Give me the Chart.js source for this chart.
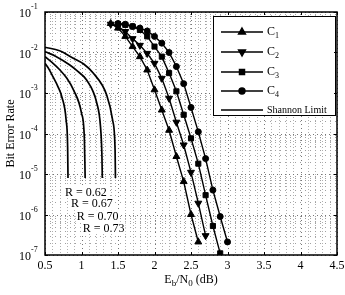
<!DOCTYPE html>
<html>
<head>
<meta charset="utf-8">
<script src="https://cdn.jsdelivr.net/npm/chart.js@4.4.1/dist/chart.umd.min.js"></script>
<style>
html, body { margin: 0; padding: 0; background: #fff; }
</style>
</head>
<body>
<canvas id="ber" width="345" height="295"></canvas>
<script>
// code families C1..C4 (Eb/N0 in dB, bit error rate)
const c1Ebn0 = [1.4, 1.5, 1.6, 1.7, 1.8, 1.9, 2.0, 2.1, 2.2, 2.3, 2.4, 2.5, 2.6];
const c1Ber = [5.2e-2, 4.0e-2, 2.5e-2, 1.4e-2, 7.9e-3, 3.7e-3, 1.2e-3, 3.8e-4, 1.2e-4, 2.7e-5, 6.5e-6, 1.0e-6, 2.1e-7];
const c2Ebn0 = [1.4, 1.5, 1.6, 1.7, 1.8, 1.9, 2.0, 2.1, 2.2, 2.3, 2.4, 2.5, 2.6, 2.7];
const c2Ber = [5.0e-2, 4.4e-2, 3.3e-2, 2.2e-2, 1.5e-2, 9.5e-3, 5.4e-3, 2.3e-3, 7.4e-4, 1.9e-4, 5.2e-5, 1.1e-5, 1.9e-6, 3.0e-7];
const c3Ebn0 = [1.5, 1.6, 1.7, 1.8, 1.9, 2.0, 2.1, 2.2, 2.3, 2.4, 2.5, 2.6, 2.7, 2.8, 2.9];
const c3Ber = [5.0e-2, 4.8e-2, 4.4e-2, 3.6e-2, 2.5e-2, 1.4e-2, 7.9e-3, 3.1e-3, 1.1e-3, 2.9e-4, 7.6e-5, 1.8e-5, 3.0e-6, 5.2e-7, 1.1e-7];
const c4Ebn0 = [1.5, 1.6, 1.7, 1.8, 1.9, 2.0, 2.1, 2.2, 2.3, 2.4, 2.5, 2.6, 2.7, 2.8, 2.9, 3.0];
const c4Ber = [5.2e-2, 5.0e-2, 4.4e-2, 4.0e-2, 3.4e-2, 2.5e-2, 1.7e-2, 1.0e-2, 4.5e-3, 1.7e-3, 4.4e-4, 1.1e-4, 2.4e-5, 4.0e-6, 8.9e-7, 2.1e-7];

// Shannon limit curves for each rate
const rates = ['0.62', '0.67', '0.70', '0.73'];
const shannonEbn0 = [
    [0.5, 0.55, 0.61, 0.68, 0.73, 0.79, 0.81, 0.815],
    [0.5, 0.6, 0.705, 0.8, 0.89, 1.0, 1.04, 1.05],
    [0.5, 0.65, 0.84, 0.95, 1.07, 1.21, 1.26, 1.28, 1.285],
    [0.5, 0.7, 0.888, 1.03, 1.16, 1.345, 1.427, 1.46, 1.465]
];
const shannonBer = [
    [5.4e-3, 4.0e-3, 2.5e-3, 1.4e-3, 8.1e-4, 2.1e-4, 4.7e-5, 8e-6],
    [7.9e-3, 5.6e-3, 3.7e-3, 2.3e-3, 1.2e-3, 3.2e-4, 6.9e-5, 8e-6],
    [1.05e-2, 8.0e-3, 4.9e-3, 3.4e-3, 2.1e-3, 5.6e-4, 1.5e-4, 2.7e-5, 8e-6],
    [1.35e-2, 1.1e-2, 7.2e-3, 5.2e-3, 3.1e-3, 8.9e-4, 2.1e-4, 3.9e-5, 8e-6]
];
// where the "R = ..." notes sit (data coordinates, left edge)
const rLabelEbn0 = [0.775, 0.856, 0.934, 1.016];
const rLabelBer = [3.6e-6, 1.9e-6, 9.1e-7, 4.7e-7];

const xTicks = [0.5, 1, 1.5, 2, 2.5, 3, 3.5, 4, 4.5];
const yExponents = [-1, -2, -3, -4, -5, -6, -7];

const SERIF = '"Liberation Serif", "Times New Roman", serif';

function pts(xs, ys) {
    return xs.map((x, i) => ({ x: x, y: ys[i] }));
}

const codeSets = [
    { label: 'C1', xs: c1Ebn0, ys: c1Ber, style: 'triangle', rot: 0, r: 4 },
    { label: 'C2', xs: c2Ebn0, ys: c2Ber, style: 'triangle', rot: 180, r: 4 },
    { label: 'C3', xs: c3Ebn0, ys: c3Ber, style: 'rect', rot: 0, r: 3.6 },
    { label: 'C4', xs: c4Ebn0, ys: c4Ber, style: 'circle', rot: 0, r: 3 }
];

const datasets = codeSets.map(s => ({
    label: s.label,
    data: pts(s.xs, s.ys),
    borderColor: '#000',
    backgroundColor: '#000',
    borderWidth: 1.4,
    pointStyle: s.style,
    pointRotation: s.rot,
    pointRadius: s.r,
    pointBorderWidth: 1,
    tension: 0
}));

shannonEbn0.forEach((xs, i) => {
    datasets.push({
        label: 'Shannon R=' + rates[i],
        data: pts(xs, shannonBer[i]),
        borderColor: '#000',
        borderWidth: 1.7,
        pointRadius: 0,
        cubicInterpolationMode: 'monotone'
    });
});

// matlab style dotted grid
const gridPlugin = {
    id: 'grid',
    beforeDatasetsDraw(chart) {
        const { ctx, chartArea: a, scales } = chart;
        ctx.save();
        ctx.lineWidth = 1;
        for (let k = 5; k <= 45; k++) {
            const v = k / 10;
            const px = Math.round(scales.x.getPixelForValue(v)) + 0.5;
            const major = k % 5 === 0;
            ctx.strokeStyle = major ? '#777' : '#b0b0b0';
            ctx.setLineDash(major ? [1, 3] : [1, 2]);
            ctx.beginPath();
            ctx.moveTo(px, a.top);
            ctx.lineTo(px, a.bottom);
            ctx.stroke();
        }
        for (let e = -7; e < -1 + 1; e++) {
            for (let m = 1; m <= 9; m++) {
                const v = m * Math.pow(10, e);
                if (v > 0.1 + 1e-12) continue;
                const py = Math.round(scales.y.getPixelForValue(v)) + 0.5;
                ctx.strokeStyle = m === 1 ? '#777' : '#a0a0a0';
                ctx.setLineDash(m === 1 ? [1, 3] : [1, 4]);
                ctx.beginPath();
                ctx.moveTo(a.left, py);
                ctx.lineTo(a.right, py);
                ctx.stroke();
            }
        }
        ctx.restore();
    },
    afterDatasetsDraw(chart) {
        const { ctx, chartArea: a, scales } = chart;
        ctx.save();

        // R notes with white boxes
        ctx.font = '12px ' + SERIF;
        ctx.textBaseline = 'middle';
        rates.forEach((r, i) => {
            const txt = 'R = ' + r;
            const x = scales.x.getPixelForValue(rLabelEbn0[i]);
            const y = scales.y.getPixelForValue(rLabelBer[i]);
            const w = ctx.measureText(txt).width;
            ctx.fillStyle = '#fff';
            ctx.fillRect(x - 1, y - 6, w + 2, 12);
            ctx.fillStyle = '#000';
            ctx.fillText(txt, x, y + 1);
        });

        // legend box
        const lx = a.right - 124, ly = a.top + 4, lw = 122, lh = 99;
        ctx.fillStyle = '#fff';
        ctx.fillRect(lx, ly, lw, lh);
        ctx.strokeStyle = '#000';
        ctx.lineWidth = 1;
        ctx.strokeRect(lx + 0.5, ly + 0.5, lw, lh);
        const rowY = [16, 36, 56, 75, 94];
        codeSets.forEach((s, i) => {
            const y = ly + rowY[i];
            ctx.lineWidth = 1.4;
            ctx.beginPath();
            ctx.moveTo(lx + 8, y);
            ctx.lineTo(lx + 50, y);
            ctx.stroke();
            ctx.fillStyle = '#000';
            Chart.helpers.drawPoint(ctx, { pointStyle: s.style, rotation: s.rot, radius: s.r, borderWidth: 1 }, lx + 29, y);
            ctx.font = '12px ' + SERIF;
            ctx.textBaseline = 'middle';
            ctx.fillText('C', lx + 54, y);
            ctx.font = '8px ' + SERIF;
            ctx.fillText(String(i + 1), lx + 62, y + 4);
        });
        const sy = ly + rowY[4];
        ctx.lineWidth = 1.4;
        ctx.beginPath();
        ctx.moveTo(lx + 8, sy);
        ctx.lineTo(lx + 50, sy);
        ctx.stroke();
        ctx.font = '10px ' + SERIF;
        ctx.fillText('Shannon Limit', lx + 54, sy);
        ctx.restore();
    },
    afterDraw(chart) {
        const { ctx, chartArea: a, scales } = chart;
        ctx.save();
        ctx.strokeStyle = '#000';
        ctx.fillStyle = '#000';

        // frame
        ctx.lineWidth = 1.5;
        ctx.strokeRect(a.left, a.top, a.right - a.left, a.bottom - a.top);

        // inward ticks
        ctx.lineWidth = 1;
        xTicks.forEach(v => {
            const px = Math.round(scales.x.getPixelForValue(v)) + 0.5;
            ctx.beginPath();
            ctx.moveTo(px, a.bottom); ctx.lineTo(px, a.bottom - 3);
            ctx.moveTo(px, a.top); ctx.lineTo(px, a.top + 3);
            ctx.stroke();
        });
        yExponents.forEach(e => {
            const py = Math.round(scales.y.getPixelForValue(Math.pow(10, e))) + 0.5;
            ctx.beginPath();
            ctx.moveTo(a.left, py); ctx.lineTo(a.left + 3, py);
            ctx.moveTo(a.right, py); ctx.lineTo(a.right - 3, py);
            ctx.stroke();
        });

        // x tick labels
        ctx.font = '12px ' + SERIF;
        ctx.textAlign = 'center';
        ctx.textBaseline = 'top';
        xTicks.forEach(v => {
            ctx.fillText(String(v), scales.x.getPixelForValue(v), a.bottom + 5);
        });

        // y tick labels 10^e
        yExponents.forEach(e => {
            const py = scales.y.getPixelForValue(Math.pow(10, e));
            ctx.font = '12px ' + SERIF;
            ctx.textAlign = 'right';
            ctx.textBaseline = 'middle';
            ctx.fillText('10', a.left - 14, py + 2);
            ctx.font = '8px ' + SERIF;
            ctx.textAlign = 'left';
            ctx.fillText(String(e), a.left - 14, py - 5);
        });

        // y title
        ctx.save();
        ctx.translate(11, (a.top + a.bottom) / 2);
        ctx.rotate(-Math.PI / 2);
        ctx.font = '12px ' + SERIF;
        ctx.textAlign = 'center';
        ctx.textBaseline = 'middle';
        ctx.fillText('Bit Error Rate', 0, 0);
        ctx.restore();

        // x title: E_b/N_0 (dB)
        const parts = [['E', 12, 0], ['b', 9, 4], ['/N', 12, 0], ['0', 9, 4], [' (dB)', 12, 0]];
        let total = 0;
        parts.forEach(p => { ctx.font = p[1] + 'px ' + SERIF; total += ctx.measureText(p[0]).width; });
        let tx = (a.left + a.right) / 2 - total / 2;
        const ty = a.bottom + 25;
        ctx.textAlign = 'left';
        ctx.textBaseline = 'middle';
        parts.forEach(p => {
            ctx.font = p[1] + 'px ' + SERIF;
            ctx.fillText(p[0], tx, ty + p[2]);
            tx += ctx.measureText(p[0]).width;
        });
        ctx.restore();
    }
};

new Chart(document.getElementById('ber').getContext('2d'), {
    type: 'line',
    data: { datasets: datasets },
    options: {
        responsive: false,
        animation: false,
        layout: { padding: { left: 45, right: 8, top: 12, bottom: 40 } },
        plugins: {
            legend: { display: false },
            tooltip: { enabled: false }
        },
        scales: {
            x: { type: 'linear', min: 0.5, max: 4.5, display: false },
            y: { type: 'logarithmic', min: 1e-7, max: 1e-1, display: false }
        }
    },
    plugins: [gridPlugin]
});
</script>
</body>
</html>
